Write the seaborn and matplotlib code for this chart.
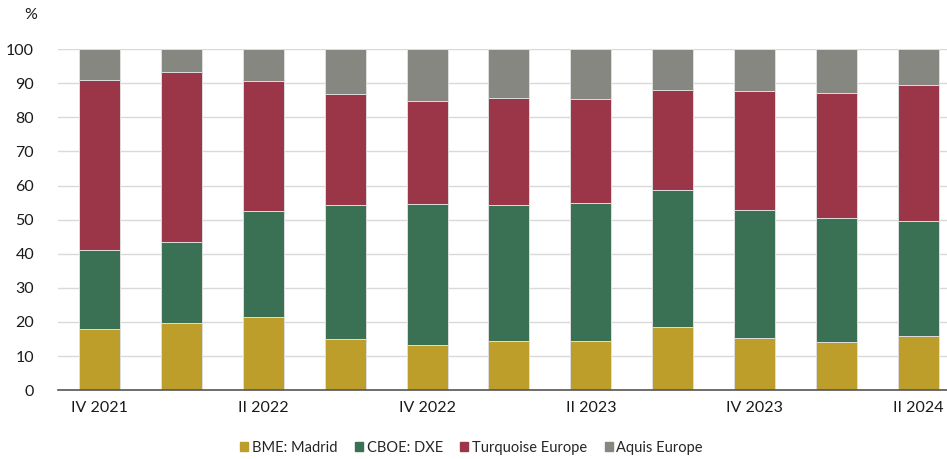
import pandas as pd
import seaborn as sns
import matplotlib.pyplot as plt
import numpy as np

# Quarterly market shares (%)
quarters = ["IV 2021", "I 2022", "II 2022", "III 2022", "IV 2022", "I 2023",
            "II 2023", "III 2023", "IV 2023", "I 2024", "II 2024"]
bme = [17.8, 19.8, 21.4, 15.0, 13.2, 14.5, 14.5, 18.6, 15.4, 14.1, 15.8]
cboe = [23.4, 23.7, 31.1, 39.2, 41.4, 39.7, 40.5, 40.0, 37.5, 36.5, 33.9]
turquoise = [49.8, 49.9, 38.2, 32.7, 30.3, 31.6, 30.4, 29.5, 34.9, 36.4, 39.7]
aquis = [9.0, 6.6, 9.3, 13.1, 15.1, 14.2, 14.6, 11.9, 12.2, 13.0, 10.6]

names = ["BME: Madrid", "CBOE: DXE", "Turquoise Europe", "Aquis Europe"]
colors = ["#BD9E2B", "#3A7053", "#9B3648", "#868781"]

df = pd.DataFrame({"quarter": quarters, names[0]: bme, names[1]: cboe,
                   names[2]: turquoise, names[3]: aquis})
cum = df[names].cumsum(axis=1)

sns.set_theme(style="white")
plt.rcParams["font.family"] = ["Lato", "DejaVu Sans"]

fig, ax = plt.subplots(figsize=(9.47, 4.59), dpi=100)
fig.subplots_adjust(left=0.061, right=1.0, top=0.893, bottom=0.15)

# stacked bars: draw cumulative totals from the top layer down
for name, col in zip(names[::-1], colors[::-1]):
    sns.barplot(x=df["quarter"], y=cum[name], color=col, width=0.5,
                edgecolor="#dedede", linewidth=0.7, ax=ax, zorder=3,
                saturation=1)

ax.set_ylim(0, 100)
ax.set_yticks(np.arange(0, 101, 10))
ax.set_xlim(-0.51, 10.35)
ax.grid(axis="y", color="#d9d9d9", linewidth=1, zorder=0)
ax.set_axisbelow(True)
for s in ["top", "right", "left"]:
    ax.spines[s].set_visible(False)
ax.spines["bottom"].set_color("#555555")
ax.spines["bottom"].set_linewidth(1.2)
ax.spines["bottom"].set_zorder(5)

ax.set_xticks(range(0, 11, 2))
ax.set_xticklabels(quarters[::2])
ax.tick_params(axis="both", length=0, labelsize=11.5, colors="#1a1a1a")
ax.tick_params(axis="y", pad=17)
ax.tick_params(axis="x", pad=8)
ax.set_xlabel("")
ax.set_ylabel("")
ax.text(-0.031, 1.1, "%", transform=ax.transAxes, fontsize=11.5,
        ha="center", va="center", color="#1a1a1a")

handles = [plt.Rectangle((0, 0), 1, 1, color=c) for c in colors]
fig.legend(handles, names, loc="center", bbox_to_anchor=(0.498, 0.024),
           ncol=4, frameon=False, fontsize=10.5, handlelength=0.55,
           handleheight=0.55, handletextpad=0.25, columnspacing=1.2)

fig.savefig("out.png", dpi=100)
